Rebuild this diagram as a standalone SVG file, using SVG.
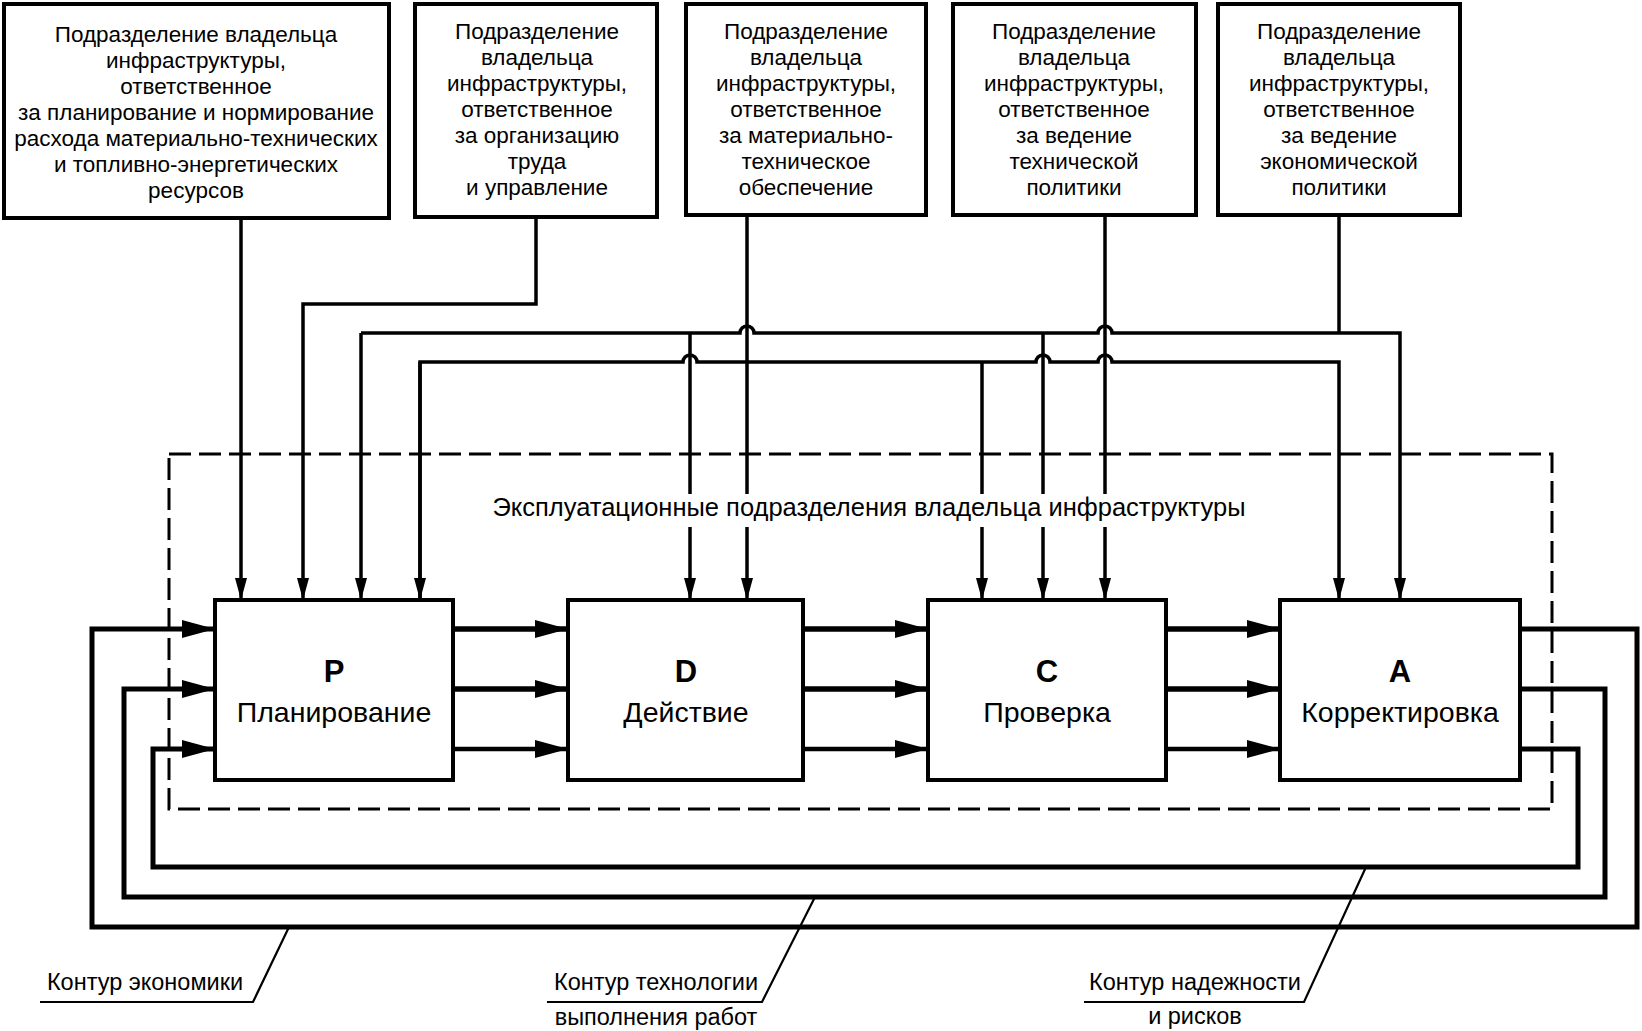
<svg xmlns="http://www.w3.org/2000/svg" width="1642" height="1031" viewBox="0 0 1642 1031">
<style>
text{font-family:"Liberation Sans",Arial,sans-serif;fill:#000}
.bt{font-size:22.5px;text-anchor:middle}
.big{font-size:28.5px;text-anchor:middle}
.let{font-size:31px;font-weight:bold;text-anchor:middle}
.lbl{font-size:23.5px;text-anchor:middle}
.box{fill:#fff;stroke:#000;stroke-width:4}
.ln{fill:none;stroke:#000;stroke-width:3.5}
.va{fill:none;stroke:#000;stroke-width:3.5;marker-end:url(#av)}
.ha{fill:none;stroke:#000;stroke-width:5.5;marker-end:url(#ah)}
.loop{fill:none;stroke:#000;stroke-width:5;marker-end:url(#ah)}
.dash{fill:none;stroke:#000;stroke-width:3;stroke-dasharray:22 8}
.lead{fill:none;stroke:#000;stroke-width:2.2}
</style>
<defs>
<marker id="av" markerUnits="userSpaceOnUse" markerWidth="22" markerHeight="12" refX="22" refY="6" orient="auto"><path d="M0,0 L22,6 L0,12 z" fill="#000"/></marker>
<marker id="ah" markerUnits="userSpaceOnUse" markerWidth="33" markerHeight="18" refX="33" refY="9" orient="auto"><path d="M0,0 L33,9 L0,18 z" fill="#000"/></marker>
</defs>
<rect width="1642" height="1031" fill="#fff"/>

<g id="operational-units">
<rect class="dash" x="169" y="454" width="1383" height="355"/>
<text class="lbl" x="869" y="516" style="font-size:25.5px">Эксплуатационные подразделения владельца инфраструктуры</text>
</g>

<g id="connectors">
<path class="va" d="M241 218 V600"/>
<path class="va" d="M536 217 V304 H303 V600"/>
<path class="ln" d="M1339 215 V333"/>
<path class="va" d="M361 333 H740 A7 7 0 0 1 754 333 H1098 A7 7 0 0 1 1112 333 H1400 V600"/>
<path class="va" d="M361 333 V600"/>
<path class="va" d="M420 600 V362 H683 A7 7 0 0 1 697 362 H1036 A7 7 0 0 1 1050 362 H1098 A7 7 0 0 1 1112 362 H1339 V600"/>
<path class="va" d="M420 362 V600"/>
<path class="ln" d="M690 333 V494"/><path class="va" d="M690 527 V600"/>
<path class="ln" d="M747 215 V494"/><path class="va" d="M747 527 V600"/>
<path class="ln" d="M982 362 V494"/><path class="va" d="M982 527 V600"/>
<path class="ln" d="M1043 333 V494"/><path class="va" d="M1043 527 V600"/>
<path class="ln" d="M1105 215 V494"/><path class="va" d="M1105 527 V600"/>

<path class="ha" d="M453 629 H568"/>
<path class="ha" d="M453 689 H568"/>
<path class="ha" d="M453 749 H568" style="stroke-width:4.5"/>
<path class="ha" d="M803 629 H928"/>
<path class="ha" d="M803 689 H928"/>
<path class="ha" d="M803 749 H928" style="stroke-width:4.5"/>
<path class="ha" d="M1166 629 H1280"/>
<path class="ha" d="M1166 689 H1280"/>
<path class="ha" d="M1166 749 H1280" style="stroke-width:4.5"/>

<path class="loop" d="M1520 629 H1637 V927 H92 V629 H215"/>
<path class="loop" d="M1520 689 H1605 V897 H124 V689 H215"/>
<path class="loop" d="M1520 749 H1578 V867 H153 V749 H215"/>
</g>

<g id="box-planning-norms">
<rect class="box" x="4" y="4" width="385" height="214"/>
<text class="bt"><tspan x="196" y="41.5">Подразделение владельца</tspan><tspan x="196" y="67.5">инфраструктуры,</tspan><tspan x="196" y="93.5">ответственное</tspan><tspan x="196" y="119.5">за планирование и нормирование</tspan><tspan x="196" y="145.5">расхода материально-технических</tspan><tspan x="196" y="171.5">и топливно-энергетических</tspan><tspan x="196" y="197.5">ресурсов</tspan></text>
</g>
<g id="box-labour">
<rect class="box" x="415" y="4" width="242" height="213"/>
<text class="bt"><tspan x="537" y="38.5">Подразделение</tspan><tspan x="537" y="64.5">владельца</tspan><tspan x="537" y="90.5">инфраструктуры,</tspan><tspan x="537" y="116.5">ответственное</tspan><tspan x="537" y="142.5">за организацию</tspan><tspan x="537" y="168.5">труда</tspan><tspan x="537" y="194.5">и управление</tspan></text>
</g>
<g id="box-supply">
<rect class="box" x="686" y="4" width="240" height="211"/>
<text class="bt"><tspan x="806" y="38.5">Подразделение</tspan><tspan x="806" y="64.5">владельца</tspan><tspan x="806" y="90.5">инфраструктуры,</tspan><tspan x="806" y="116.5">ответственное</tspan><tspan x="806" y="142.5">за материально-</tspan><tspan x="806" y="168.5">техническое</tspan><tspan x="806" y="194.5">обеспечение</tspan></text>
</g>
<g id="box-tech-policy">
<rect class="box" x="953" y="4" width="243" height="211"/>
<text class="bt"><tspan x="1074" y="38.5">Подразделение</tspan><tspan x="1074" y="64.5">владельца</tspan><tspan x="1074" y="90.5">инфраструктуры,</tspan><tspan x="1074" y="116.5">ответственное</tspan><tspan x="1074" y="142.5">за ведение</tspan><tspan x="1074" y="168.5">технической</tspan><tspan x="1074" y="194.5">политики</tspan></text>
</g>
<g id="box-econ-policy">
<rect class="box" x="1218" y="4" width="242" height="211"/>
<text class="bt"><tspan x="1339" y="38.5">Подразделение</tspan><tspan x="1339" y="64.5">владельца</tspan><tspan x="1339" y="90.5">инфраструктуры,</tspan><tspan x="1339" y="116.5">ответственное</tspan><tspan x="1339" y="142.5">за ведение</tspan><tspan x="1339" y="168.5">экономической</tspan><tspan x="1339" y="194.5">политики</tspan></text>
</g>

<g id="node-P">
<rect class="box" x="215" y="600" width="238" height="180"/>
<text class="let" x="334" y="682">P</text>
<text class="big" x="334" y="722">Планирование</text>
</g>
<g id="node-D">
<rect class="box" x="568" y="600" width="235" height="180"/>
<text class="let" x="686" y="682">D</text>
<text class="big" x="686" y="722">Действие</text>
</g>
<g id="node-C">
<rect class="box" x="928" y="600" width="238" height="180"/>
<text class="let" x="1047" y="682">C</text>
<text class="big" x="1047" y="722">Проверка</text>
</g>
<g id="node-A">
<rect class="box" x="1280" y="600" width="240" height="180"/>
<text class="let" x="1400" y="682">A</text>
<text class="big" x="1400" y="722">Корректировка</text>
</g>

<g id="callout-economy">
<path class="lead" d="M40 1002 H253 L289 927"/>
<text class="lbl" x="145" y="990">Контур экономики</text>
</g>
<g id="callout-technology">
<path class="lead" d="M547 1002 H762 L815 897"/>
<text class="lbl" x="656" y="990">Контур технологии</text>
<text class="lbl" x="656" y="1025">выполнения работ</text>
</g>
<g id="callout-reliability">
<path class="lead" d="M1084 1002 H1304 L1366 867"/>
<text class="lbl" x="1195" y="990">Контур надежности</text>
<text class="lbl" x="1195" y="1024">и рисков</text>
</g>
</svg>
